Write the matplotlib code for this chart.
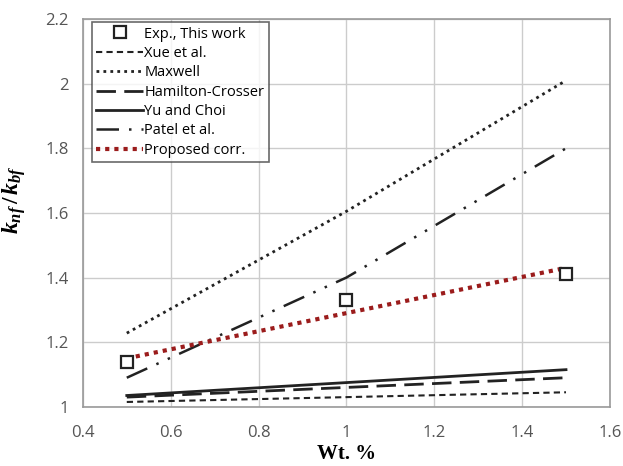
import matplotlib
matplotlib.use('Agg')
import matplotlib.pyplot as plt

# weight percent
wt = [0.5, 1.0, 1.5]

# thermal conductivity ratio k_nf / k_bf
exp_this_work = [1.14, 1.33, 1.41]
xue = [1.015, 1.03, 1.045]
maxwell = [1.228, 1.605, 2.01]
hamilton = [1.03, 1.06, 1.09]
yu_choi = [1.035, 1.075, 1.115]
patel = [1.09, 1.40, 1.80]
proposed = [1.15, 1.29, 1.43]

plt.rcParams['mathtext.fontset'] = 'custom'
plt.rcParams['mathtext.it'] = 'Liberation Serif:italic:bold'
plt.rcParams['mathtext.rm'] = 'Liberation Serif:bold'

fig = plt.figure(figsize=(6.23, 4.66), dpi=100)
ax = fig.add_axes([0.133, 0.127, 0.846, 0.832])

ax.plot(wt, exp_this_work, linestyle='none', marker='s', markersize=9,
        markerfacecolor='white', markeredgecolor='#222222', markeredgewidth=1.6,
        label='Exp., This work', zorder=5)
ax.plot(wt, xue, color='#222222', linestyle=(0, (3, 2)), linewidth=1.5,
        label='Xue et al.')
ax.plot(wt, maxwell, color='#222222', linestyle=(0, (1, 1.5)), linewidth=2,
        label='Maxwell')
ax.plot(wt, hamilton, color='#222222', linestyle=(0, (7, 3)), linewidth=2,
        label='Hamilton-Crosser')
ax.plot(wt, yu_choi, color='#222222', linestyle='-', linewidth=2,
        label='Yu and Choi')
ax.plot(wt, patel, color='#222222', linestyle=(0, (9, 4, 1, 4, 1, 4)),
        linewidth=1.8, label='Patel et al.')
ax.plot(wt, proposed, color='#9b1c1c', linestyle=(0, (1, 1.2)), linewidth=3,
        label='Proposed corr.')

ax.set_xlim(0.4, 1.6)
ax.set_ylim(1.0, 2.2)
ax.set_xticks([0.4, 0.6, 0.8, 1.0, 1.2, 1.4, 1.6])
ax.set_xticklabels(['0.4', '0.6', '0.8', '1', '1.2', '1.4', '1.6'])
ax.set_yticks([1.0, 1.2, 1.4, 1.6, 1.8, 2.0, 2.2])
ax.set_yticklabels(['1', '1.2', '1.4', '1.6', '1.8', '2', '2.2'])
ax.grid(True, color='#cccccc', linewidth=1)
ax.set_axisbelow(True)
ax.tick_params(length=0, labelsize=12, labelcolor='#555555')
ax.tick_params(axis='x', pad=13)
ax.tick_params(axis='y', pad=10)
for lab in ax.get_xticklabels() + ax.get_yticklabels():
    lab.set_family('Open Sans')
for sp in ax.spines.values():
    sp.set_color('#999999')
    sp.set_linewidth(1.2)

ax.set_xlabel('Wt. %', fontsize=15, fontweight='bold',
              family='Liberation Serif', labelpad=2)
ax.set_ylabel(r'$k_{nf}\,/\,k_{bf}$', fontsize=17)
ax.yaxis.set_label_coords(-0.104, 0.535)

leg = ax.legend(loc='upper left', bbox_to_anchor=(0.017, 0.992),
                borderaxespad=0, frameon=True, fancybox=False,
                edgecolor='#444444', handlelength=3.2, handletextpad=0.1,
                borderpad=0.3, labelspacing=0.3,
                prop={'family': 'Open Sans', 'size': 10.5})
leg.get_frame().set_linewidth(1.2)

fig.savefig('out.png', dpi=100)
